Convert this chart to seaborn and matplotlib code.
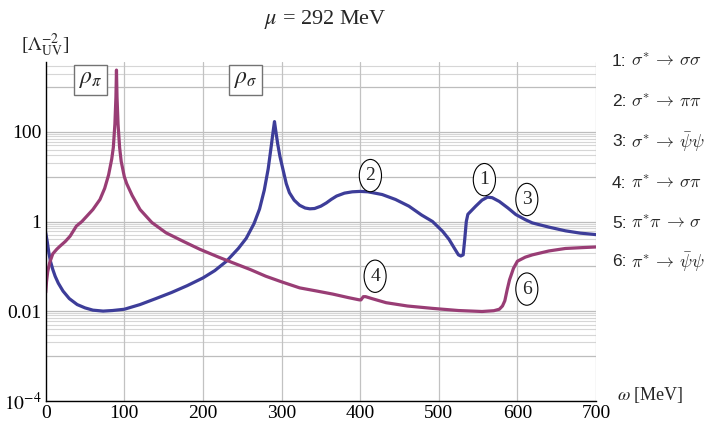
import numpy as np
import pandas as pd
import matplotlib
matplotlib.use("Agg")
import matplotlib.pyplot as plt
import seaborn as sns

# ---------------- data ----------------
omega_sigma = [0, 2, 4, 6, 9, 12, 16, 22, 30, 40, 50, 60, 73, 85, 100, 120, 140, 160, 180,
               200, 215, 230, 245, 255, 265, 272, 278, 283, 287, 289.5, 291, 292.5, 295, 298,
               302, 306, 310, 316, 323, 330, 336, 342, 350, 357, 363, 370, 380, 390, 400, 410,
               428, 445, 462, 478, 492, 505, 513, 520, 525, 528, 531, 533, 535, 537, 547, 555,
               562, 568, 577, 588, 598, 610, 619, 640, 661, 680, 700]
rate_sigma = [0.56, 0.35, 0.2, 0.13, 0.085, 0.06, 0.042, 0.028, 0.019, 0.014, 0.0118, 0.0105,
              0.0100, 0.0103, 0.011, 0.014, 0.019, 0.026, 0.037, 0.055, 0.08, 0.13, 0.25, 0.42,
              0.9, 1.9, 5, 15, 50, 110, 170, 110, 55, 28, 14, 7, 4.4, 3.0, 2.3, 2.0, 1.92, 1.95,
              2.2, 2.6, 3.1, 3.7, 4.3, 4.6, 4.7, 4.6, 4.0, 3.1, 2.2, 1.4, 1.0, 0.6, 0.4, 0.25,
              0.18, 0.17, 0.18, 0.4, 1.0, 1.45, 2.2, 3.0, 3.5, 3.4, 2.8, 2.0, 1.43, 1.1, 0.93,
              0.75, 0.62, 0.55, 0.51]

omega_pi = [0, 1, 2.5, 5, 9, 14, 18, 25, 31, 39, 46, 52, 60, 69, 75, 80, 84, 86, 88, 89.3, 90,
            90.7, 92, 94, 96, 100, 103, 110, 120, 135, 153, 175, 196, 220, 238, 260, 280, 300,
            323, 345, 365, 385, 399, 401, 404, 407, 415, 433, 460, 492, 525, 555, 570, 577, 581,
            584, 587, 590, 595, 600, 610, 619, 640, 661, 680, 700]
rate_pi = [0.026, 0.045, 0.075, 0.12, 0.19, 0.24, 0.28, 0.36, 0.47, 0.79, 1.0, 1.3, 1.85, 3.1,
           5.5, 11, 25, 45, 150, 600, 2400, 600, 150, 45, 22, 10, 7, 3.8, 1.85, 0.95, 0.56, 0.36,
           0.24, 0.16, 0.12, 0.085, 0.06, 0.045, 0.033, 0.028, 0.024, 0.02, 0.0178, 0.0178,
           0.021, 0.021, 0.019, 0.0154, 0.013, 0.0115, 0.0103, 0.0098, 0.0102, 0.011, 0.013,
           0.017, 0.03, 0.05, 0.09, 0.13, 0.16, 0.18, 0.22, 0.25, 0.26, 0.27]

x_ticks = [0, 100, 200, 300, 400, 500, 600, 700]
y_ticks = [1e-4, 1e-2, 1, 100]
y_tick_labels = [r"$10^{-4}$", "0.01", "1", "100"]
legend_nums = ["1:", "2:", "3:", "4:", "5:", "6:"]
legend_math = [r"$\sigma^{*}\,\rightarrow\,\sigma\sigma$",
               r"$\sigma^{*}\,\rightarrow\,\pi\pi$",
               r"$\sigma^{*}\,\rightarrow\,\bar{\psi}\psi$",
               r"$\pi^{*}\,\rightarrow\,\sigma\pi$",
               r"$\pi^{*}\pi\,\rightarrow\,\sigma$",
               r"$\pi^{*}\,\rightarrow\,\bar{\psi}\psi$"]
circled = ["2", "1", "3", "4", "6"]
boxed = [r"$\rho_{\pi}$", r"$\rho_{\sigma}$"]

# ---------------- style ----------------
sns.set_style("white")
plt.rcParams["font.family"] = ["Liberation Serif", "DejaVu Serif"]
plt.rcParams["mathtext.fontset"] = "stix"

blue = (0.24, 0.24, 0.6)
purple = (0.6, 0.24, 0.46)

fig = plt.figure(figsize=(7.28, 4.22), dpi=100)
ax = fig.add_axes([0.0628, 0.0505, 0.8187 - 0.0628, 0.853 - 0.0505])

ax.set_yscale("log")
ax.set_xlim(0, 700)
ax.set_ylim(1e-4, 10 ** 3.56)

# grid lines
for k in range(-4, 4):
    ax.axhline(10.0 ** k, color="0.74", lw=0.9, zorder=0)
for k in (-3, -1, 1, 3):
    for m in range(2, 10):
        ax.axhline(m * 10.0 ** k, color="0.84", lw=0.8, zorder=0)
for xv in x_ticks[1:]:
    ax.axvline(xv, color="0.76", lw=0.9, zorder=0)

df_s = pd.DataFrame({"omega": omega_sigma, "rate": rate_sigma})
df_p = pd.DataFrame({"omega": omega_pi, "rate": rate_pi})
sns.lineplot(data=df_s, x="omega", y="rate", ax=ax, color=blue, lw=2.3, estimator=None, sort=False, zorder=3)
sns.lineplot(data=df_p, x="omega", y="rate", ax=ax, color=purple, lw=2.3, estimator=None, sort=False, zorder=3)

ax.set_xlabel("")
ax.set_ylabel("")

# spines / ticks
for s in ("top", "right"):
    ax.spines[s].set_visible(False)
for s in ("left", "bottom"):
    ax.spines[s].set_color("black")
    ax.spines[s].set_linewidth(1.0)
    ax.spines[s].set_zorder(5)

ax.set_xticks(x_ticks)
ax.set_xticks(np.arange(0, 701, 20), minor=True)
ax.set_yticks(y_ticks)
ax.set_yticklabels(y_tick_labels)
minor_y = [10.0 ** k for k in (-3, -1, 1, 3)]
for k in (-3, -1, 1, 3):
    minor_y += [m * 10.0 ** k for m in range(2, 10)]
ax.set_yticks([v for v in minor_y if v < 10 ** 3.56], minor=True)
ax.yaxis.set_minor_formatter(matplotlib.ticker.NullFormatter())
ax.tick_params(axis="both", which="major", direction="in", length=5, width=0.9,
               labelsize=14, pad=3, colors="black")
ax.tick_params(axis="both", which="minor", direction="in", length=2.5, width=0.7)

# labels
fig.text(325 / 728, 0.953, r"$\mu$ = 292 MeV", ha="center", va="center", fontsize=16)
fig.text(45 / 728, 0.893, r"[$\Lambda_{\mathrm{UV}}^{-2}$]", ha="center", va="center", fontsize=14)
fig.text(617 / 728, (422 - 395) / 422, r"$\omega$ [MeV]", ha="left", va="center", fontsize=13)

# legend-like text on the right
ys = [62, 102, 142, 183, 223, 262]
for num, mth, yp in zip(legend_nums, legend_math, ys):
    fig.text(612 / 728, (422 - yp) / 422, num, ha="left", va="center", fontsize=12.5,
             family=["Liberation Sans", "DejaVu Sans"])
    fig.text(631 / 728, (422 - yp) / 422, mth, ha="left", va="center", fontsize=13,
             math_fontfamily="cm")

# boxed resonance labels
for txt, (xd, yd) in zip(boxed, [(57.5, 1450), (254, 1450)]):
    ax.text(xd, yd, txt, ha="center", va="center", fontsize=17, zorder=6,
            bbox=dict(boxstyle="square,pad=0.2", fc="white", ec="0.45", lw=1.0))

# circled channel numbers
for txt, (xd, yd) in zip(circled, [(413, 10.6), (558, 8.6), (612, 3.1), (419, 0.06), (612, 0.031)]):
    ax.text(xd, yd, txt, ha="center", va="center", fontsize=14, zorder=6,
            bbox=dict(boxstyle="ellipse,pad=0.15", fc="white", ec="black", lw=0.8))

fig.savefig("out.png", dpi=100)
